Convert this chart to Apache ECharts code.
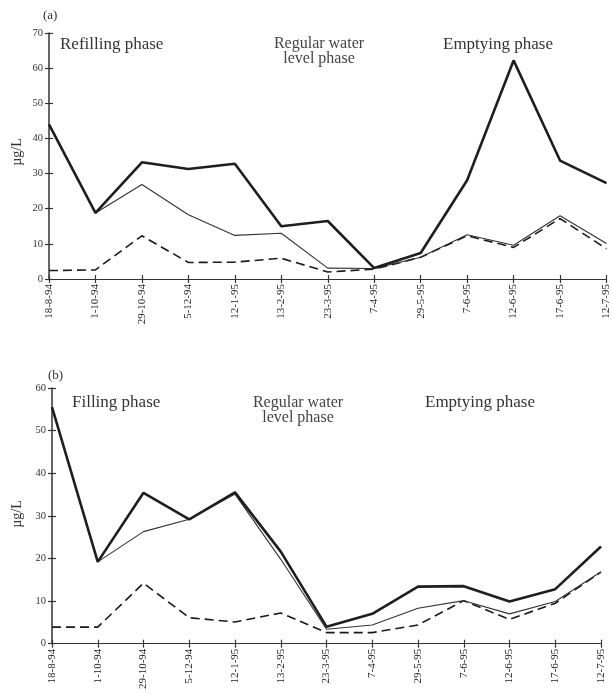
<!DOCTYPE html>
<html><head><meta charset="utf-8">
<script src="https://cdn.jsdelivr.net/npm/echarts@6/dist/echarts.min.js"></script>
<style>html,body{margin:0;padding:0;background:#fff}#c{width:612px;height:694px}</style>
</head><body><div id="c"></div>
<script>
const dates = ['18-8-94','1-10-94','29-10-94','5-12-94','12-1-95','13-2-95','23-3-95','7-4-95','29-5-95','7-6-95','12-6-95','17-6-95','12-7-95'];
// panel (a)
const aThick = [44, 18.8, 33.2, 31.3, 32.8, 15.0, 16.5, 3.1, 7.4, 28.1, 62.2, 33.7, 27.3];
const aThin  = [44, 18.8, 26.9, 18.3, 12.4, 13.0, 3.1, 3.0, 6.2, 12.6, 9.6, 18.0, 10.1];
const aDash  = [2.4, 2.6, 12.3, 4.7, 4.8, 5.9, 2.0, 2.8, 6.2, 12.3, 9.0, 17.2, 8.6];
// panel (b)
const bThick = [55.5, 19.2, 35.4, 29.2, 35.5, 21.6, 4.0, 7.0, 13.4, 13.5, 9.9, 12.8, 22.8];
const bThin  = [55.5, 19.2, 26.3, 29.2, 35.1, 19.8, 3.4, 4.4, 8.3, 10.1, 7.0, 9.9, 16.9];
const bDash  = [3.9, 3.9, 14.2, 6.1, 5.1, 7.2, 2.6, 2.6, 4.4, 10.1, 5.7, 9.5, 16.8];

const FONT = 'Liberation Serif';
const chart = echarts.init(document.getElementById('c'), null, {renderer:'canvas'});
const grids = [
  {left:49, right:0, top:33, height:246},
  {left:52, right:11, top:388, height:255.7}
];
function xAx(gi, inside){
  return {type:'category', gridIndex:gi, data:dates, boundaryGap:false, position:'bottom',
    axisLine:{show:!inside, onZero:false, lineStyle:{color:'#333', width:1.2}},
    axisTick:{show:true, inside:inside, length:4, alignWithLabel:true, lineStyle:{color:'#333', width:1.2}},
    axisLabel:{show:!inside, rotate:90, fontFamily:FONT, fontSize:11, color:'#222', margin:5, interval:0},
    splitLine:{show:false}};
}
function yAx(gi, max, inside){
  return {type:'value', gridIndex:gi, min:0, max:max, interval:10, position:'left',
    axisLine:{show:!inside, lineStyle:{color:'#333', width:1.5}},
    axisTick:{show:true, inside:inside, length:4, lineStyle:{color:'#333', width:1.2}},
    axisLabel:{show:!inside, fontFamily:FONT, fontSize:10.5, color:'#333', margin:6},
    splitLine:{show:false}};
}
function ser(xi, data, kind){
  const s = {type:'line', xAxisIndex:xi, yAxisIndex:xi, data:data, symbol:'none', animation:false, silent:true};
  if(kind==='thick'){ s.lineStyle={color:'#1e1e1e', width:2.6}; s.z=5; }
  else if(kind==='thin'){ s.lineStyle={color:'#333', width:1.1}; s.z=4; }
  else { s.lineStyle={color:'#1a1a1a', width:1.6, type:[9,5]}; s.z=3; }
  return s;
}
const txt = (x,y,t,size,align,fill)=>({type:'text', x:x, y:y, z:10, style:{text:t, font:`${size}px "${FONT}"`, fill:fill||'#333', textAlign:align||'left', textVerticalAlign:'middle', lineHeight:15}});
const rtxt = (x,y,t)=>({type:'text', x:x, y:y, rotation:Math.PI/2, style:{text:t, font:`14px "${FONT}"`, fill:'#333', textAlign:'center', textVerticalAlign:'middle'}});
chart.setOption({
  animation:false,
  grid: grids,
  xAxis:[xAx(0,false), xAx(1,false), xAx(0,true), xAx(1,true)],
  yAxis:[yAx(0,70,false), yAx(1,60,false), yAx(0,70,true), yAx(1,60,true)],
  series:[
    ser(0,aThin,'thin'), ser(0,aDash,'dash'), ser(0,aThick,'thick'),
    ser(1,bThin,'thin'), ser(1,bDash,'dash'), ser(1,bThick,'thick')
  ],
  graphic:[
    txt(43,16,'(a)',13),
    txt(60,45,'Refilling phase',17),
    txt(319,51,'Regular water\nlevel phase',16,'center','#444'),
    txt(443,45,'Emptying phase',17),
    rtxt(17,152,'µg/L'),
    txt(48,376,'(b)',13),
    txt(72,403,'Filling phase',17),
    txt(298,410,'Regular water\nlevel phase',16,'center','#444'),
    txt(425,403,'Emptying phase',17),
    rtxt(17,514,'µg/L')
  ]
});
</script></body></html>
